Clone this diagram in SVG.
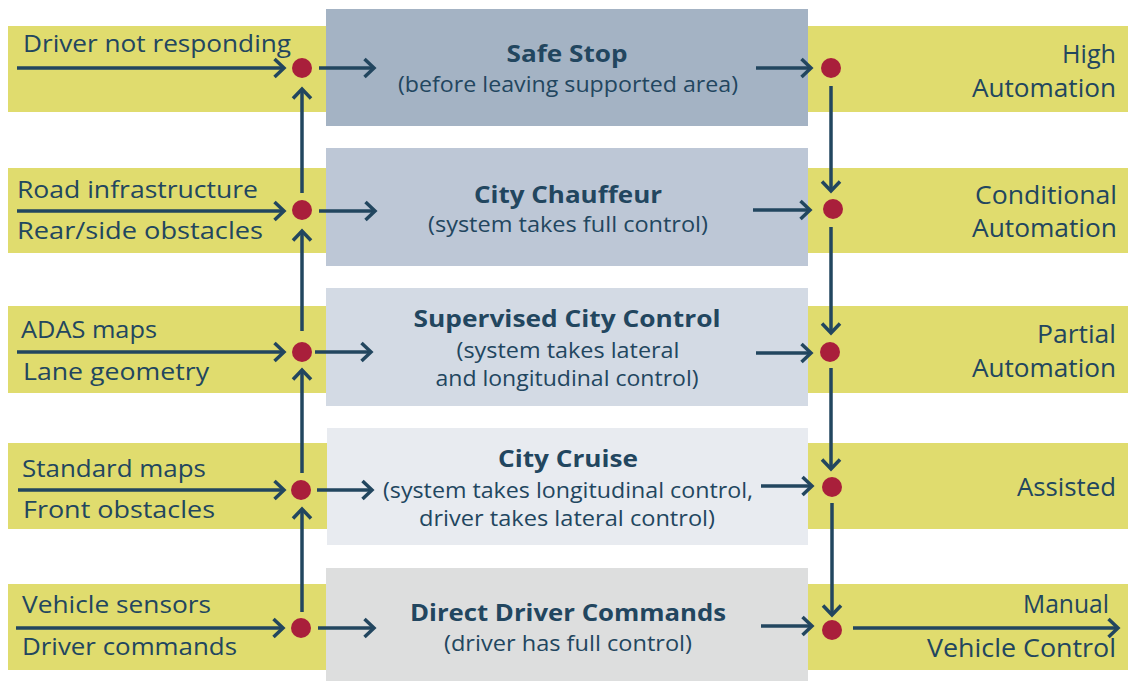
<svg xmlns="http://www.w3.org/2000/svg" width="1128" height="681" viewBox="0 0 1128 681">
<style>
.band{fill:#e0dc6e}
.t{font-family:"Open Sans","Noto Sans",sans-serif;fill:#22465f}
.in{font-size:24.5px}
.lv{font-size:25px;text-anchor:end}
.ti{font-size:24px;font-weight:bold;text-anchor:middle}
.sub{font-size:21.5px;text-anchor:middle}
.c{stroke:#22465f;stroke-width:3.5;fill:none;marker-end:url(#ah)}
.dot{fill:#a91f3b}
</style>
<defs>
<marker id="ah" markerUnits="userSpaceOnUse" markerWidth="24" markerHeight="24" refX="12" refY="12" orient="auto" viewBox="0 0 24 24">
<path d="M2.5,3 L12,12 L2.5,21" fill="none" stroke="#22465f" stroke-width="3.5" stroke-linejoin="miter" stroke-linecap="butt"/>
</marker>
</defs>
<g id="bands">
<rect class="band" x="8" y="26" width="1120" height="86"/>
<rect class="band" x="8" y="168" width="1120" height="85"/>
<rect class="band" x="8" y="306" width="1120" height="87"/>
<rect class="band" x="8" y="443" width="1120" height="86"/>
<rect class="band" x="8" y="584" width="1120" height="86"/>
</g>
<g id="safe-stop">
<rect x="326" y="9" width="482" height="117" fill="#a4b3c4"/>
<text class="t ti" x="567" y="62" textLength="121" lengthAdjust="spacingAndGlyphs">Safe Stop</text>
<text class="t sub" x="568" y="92" textLength="340" lengthAdjust="spacingAndGlyphs">(before leaving supported area)</text>
</g>
<g id="city-chauffeur">
<rect x="326" y="148" width="482" height="118" fill="#bdc7d6"/>
<text class="t ti" x="568" y="203" textLength="188" lengthAdjust="spacingAndGlyphs">City Chauffeur</text>
<text class="t sub" x="568" y="232" textLength="280" lengthAdjust="spacingAndGlyphs">(system takes full control)</text>
</g>
<g id="supervised-city-control">
<rect x="326" y="288" width="482" height="118" fill="#d3dae4"/>
<text class="t ti" x="567" y="327" textLength="307" lengthAdjust="spacingAndGlyphs">Supervised City Control</text>
<text class="t sub" x="568" y="358" textLength="223" lengthAdjust="spacingAndGlyphs">(system takes lateral</text>
<text class="t sub" x="567" y="386" textLength="263" lengthAdjust="spacingAndGlyphs">and longitudinal control)</text>
</g>
<g id="city-cruise">
<rect x="327" y="428" width="481" height="117" fill="#e8ebf0"/>
<text class="t ti" x="568" y="467" textLength="140" lengthAdjust="spacingAndGlyphs">City Cruise</text>
<text class="t sub" x="568" y="498" textLength="370" lengthAdjust="spacingAndGlyphs">(system takes longitudinal control,</text>
<text class="t sub" x="567" y="526" textLength="296" lengthAdjust="spacingAndGlyphs">driver takes lateral control)</text>
</g>
<g id="direct-driver-commands">
<rect x="326" y="568" width="482" height="113" fill="#dddede"/>
<text class="t ti" x="568" y="621" textLength="316" lengthAdjust="spacingAndGlyphs">Direct Driver Commands</text>
<text class="t sub" x="568" y="651" textLength="248" lengthAdjust="spacingAndGlyphs">(driver has full control)</text>
</g>
<g id="inputs">
<text class="t in" x="23" y="52" textLength="268" lengthAdjust="spacingAndGlyphs">Driver not responding</text>
<text class="t in" x="17" y="198" textLength="241" lengthAdjust="spacingAndGlyphs">Road infrastructure</text>
<text class="t in" x="17" y="239" textLength="246" lengthAdjust="spacingAndGlyphs">Rear/side obstacles</text>
<text class="t in" x="21" y="338" textLength="136" lengthAdjust="spacingAndGlyphs">ADAS maps</text>
<text class="t in" x="23" y="380" textLength="186" lengthAdjust="spacingAndGlyphs">Lane geometry</text>
<text class="t in" x="22" y="477" textLength="184" lengthAdjust="spacingAndGlyphs">Standard maps</text>
<text class="t in" x="23" y="518" textLength="192" lengthAdjust="spacingAndGlyphs">Front obstacles</text>
<text class="t in" x="22" y="613" textLength="189" lengthAdjust="spacingAndGlyphs">Vehicle sensors</text>
<text class="t in" x="22" y="655" textLength="215" lengthAdjust="spacingAndGlyphs">Driver commands</text>
</g>
<g id="levels">
<text class="t lv" x="1116" y="63" textLength="54" lengthAdjust="spacingAndGlyphs">High</text>
<text class="t lv" x="1116" y="97" textLength="144" lengthAdjust="spacingAndGlyphs">Automation</text>
<text class="t lv" x="1117" y="204" textLength="142" lengthAdjust="spacingAndGlyphs">Conditional</text>
<text class="t lv" x="1117" y="237" textLength="145" lengthAdjust="spacingAndGlyphs">Automation</text>
<text class="t lv" x="1116" y="343" textLength="79" lengthAdjust="spacingAndGlyphs">Partial</text>
<text class="t lv" x="1116" y="377" textLength="144" lengthAdjust="spacingAndGlyphs">Automation</text>
<text class="t lv" x="1116" y="496" textLength="99" lengthAdjust="spacingAndGlyphs">Assisted</text>
<text class="t lv" x="1109" y="613" textLength="86" lengthAdjust="spacingAndGlyphs">Manual</text>
<text class="t lv" x="1116" y="657" textLength="189" lengthAdjust="spacingAndGlyphs">Vehicle Control</text>
</g>
<g id="connectors">
<line class="c" x1="17" y1="68" x2="284" y2="68"/>
<line class="c" x1="17" y1="211" x2="284" y2="211"/>
<line class="c" x1="17" y1="352" x2="284" y2="352"/>
<line class="c" x1="18" y1="490" x2="284" y2="490"/>
<line class="c" x1="16" y1="628" x2="283" y2="628"/>
<line class="c" x1="319" y1="68" x2="374" y2="68"/>
<line class="c" x1="319" y1="211" x2="375" y2="211"/>
<line class="c" x1="315" y1="352" x2="371" y2="352"/>
<line class="c" x1="317" y1="490" x2="372" y2="490"/>
<line class="c" x1="318" y1="628" x2="374" y2="628"/>
<line class="c" x1="302" y1="193" x2="302" y2="89"/>
<line class="c" x1="302" y1="331" x2="302" y2="231"/>
<line class="c" x1="302" y1="473" x2="302" y2="370"/>
<line class="c" x1="302" y1="612" x2="302" y2="509"/>
<line class="c" x1="756" y1="68" x2="811" y2="68"/>
<line class="c" x1="753" y1="210" x2="810" y2="210"/>
<line class="c" x1="756" y1="353" x2="811" y2="353"/>
<line class="c" x1="761" y1="486" x2="812" y2="486"/>
<line class="c" x1="761" y1="626" x2="812" y2="626"/>
<line class="c" x1="831" y1="86" x2="831" y2="191"/>
<line class="c" x1="831" y1="227" x2="831" y2="333"/>
<line class="c" x1="831" y1="368" x2="831" y2="469"/>
<line class="c" x1="832" y1="503" x2="832" y2="615"/>
<line class="c" x1="853" y1="628" x2="1118" y2="628"/>
</g>
<g id="junctions">
<circle class="dot" cx="302" cy="68" r="10"/>
<circle class="dot" cx="302" cy="210" r="10"/>
<circle class="dot" cx="302" cy="352" r="10"/>
<circle class="dot" cx="301" cy="490" r="10"/>
<circle class="dot" cx="301" cy="628" r="10"/>
<circle class="dot" cx="831" cy="68" r="10"/>
<circle class="dot" cx="833" cy="209" r="10"/>
<circle class="dot" cx="830" cy="352" r="10"/>
<circle class="dot" cx="832" cy="487" r="10"/>
<circle class="dot" cx="832" cy="630" r="10"/>
</g>
</svg>
